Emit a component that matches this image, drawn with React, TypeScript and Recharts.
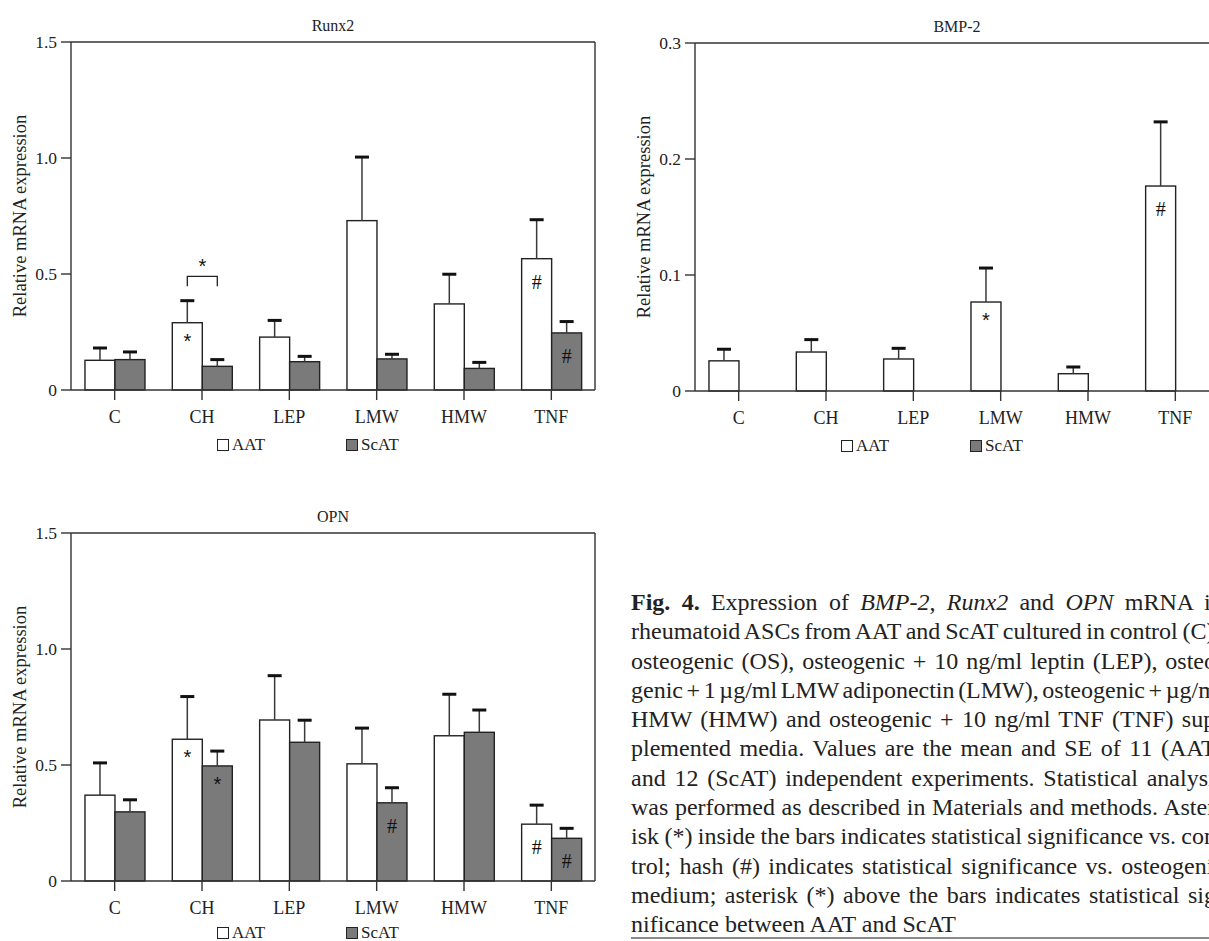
import React from 'react';
import { BarChart, Bar, XAxis, YAxis, Legend, CartesianGrid } from 'recharts';

const groups = ['C', 'CH', 'LEP', 'LMW', 'HMW', 'TNF'];

// Runx2
const runxAat = [0.128, 0.29, 0.228, 0.73, 0.371, 0.566];
const runxAatSe = [0.053, 0.095, 0.072, 0.274, 0.128, 0.168];
const runxScat = [0.131, 0.102, 0.122, 0.134, 0.093, 0.246];
const runxScatSe = [0.033, 0.029, 0.023, 0.02, 0.026, 0.049];
const runxAatMark = ['', '*', '', '', '', '#'];
const runxScatMark = ['', '', '', '', '', '#'];
const runxBracket = [null, 0.49, null, null, null, null];

// BMP-2 (ScAT not shown)
const bmpAat = [0.026, 0.0336, 0.0276, 0.0767, 0.0149, 0.1767];
const bmpAatSe = [0.01, 0.0107, 0.0092, 0.0293, 0.0058, 0.0553];
const bmpScat = [null, null, null, null, null, null];
const bmpScatSe = [null, null, null, null, null, null];
const bmpAatMark = ['', '', '', '*', '', '#'];
const bmpScatMark = ['', '', '', '', '', ''];

// OPN
const opnAat = [0.37, 0.611, 0.694, 0.505, 0.626, 0.245];
const opnAatSe = [0.139, 0.184, 0.191, 0.154, 0.179, 0.082];
const opnScat = [0.298, 0.496, 0.598, 0.337, 0.641, 0.184];
const opnScatSe = [0.052, 0.064, 0.095, 0.065, 0.096, 0.043];
const opnAatMark = ['', '*', '', '', '', '#'];
const opnScatMark = ['', '*', '', '#', '', '#'];

const runxTicks = [0, 0.5, 1.0, 1.5];
const bmpTicks = [0, 0.1, 0.2, 0.3];
const opnTicks = [0, 0.5, 1.0, 1.5];

const FONT = '"Liberation Serif", "Times New Roman", serif';
const STAR_FONT = '"Liberation Sans", Arial, sans-serif';
const AXIS = '#333';
const INK = '#222';

function buildRows(
  aat: (number | null)[],
  aatSe: (number | null)[],
  scat: (number | null)[],
  scatSe: (number | null)[],
  aatMark: string[],
  scatMark: string[],
  bracket: (number | null)[] = []
) {
  return groups.map((name, i) => ({
    name,
    aat: aat[i],
    aatSe: aatSe[i],
    scat: scat[i],
    scatSe: scatSe[i],
    aatMark: aatMark[i],
    scatMark: scatMark[i],
    bracket: bracket[i] ?? null,
  }));
}

function MeanBar(props: any) {
  const { x, y, width, height, fill, payload, valueKey, markKey } = props;
  if (!(height > 0)) return null;
  const cx = x + width / 2;
  const mark = payload[markKey];
  let bracket = null;
  if (payload.bracket != null && valueKey === 'aat') {
    // pixels per unit taken from the bar the library laid out
    const ppu = height / payload[valueKey];
    const by = y + height - payload.bracket * ppu;
    const x2 = cx + width;
    bracket = (
      <g>
        <path d={`M${cx},${by + 10}V${by}H${x2}V${by + 10}`} fill="none" stroke={INK} strokeWidth={1.3} />
        <text x={(cx + x2) / 2} y={by - 3} textAnchor="middle" fontSize={20} fontFamily={STAR_FONT} fill="#111">
          *
        </text>
      </g>
    );
  }
  return (
    <g>
      <rect x={x} y={y} width={width} height={height} fill={fill} stroke={INK} strokeWidth={1.4} />
      {mark === '*' && (
        <text x={cx} y={y + 25} textAnchor="middle" fontSize={20} fontFamily={STAR_FONT} fill="#111">
          *
        </text>
      )}
      {mark === '#' && (
        <text x={cx} y={y + 30} textAnchor="middle" fontSize={20} fontFamily={FONT} fill="#111">
          #
        </text>
      )}
      {bracket}
    </g>
  );
}

function SeBar(props: any) {
  const { x, y, width, height } = props;
  if (!(height > 0)) return null;
  const cx = x + width / 2;
  return (
    <g>
      <line x1={cx} x2={cx} y1={y + height} y2={y} stroke="#3a3a3a" strokeWidth={1.5} />
      <rect x={cx - 7} y={y - 1.5} width={14} height={3} fill="#111" />
    </g>
  );
}

function LegendBox({ payload }: any) {
  const items = (payload || []).filter((e: any) => e.dataKey === 'aat' || e.dataKey === 'scat');
  return (
    <div style={{ position: 'relative', width: 0, height: 0 }}>
      {items.map((e: any, i: number) => (
        <div
          key={e.value}
          style={{
            position: 'absolute',
            left: i * 129,
            top: 0,
            display: 'flex',
            alignItems: 'center',
            whiteSpace: 'nowrap',
            fontSize: 17,
            lineHeight: '18px',
            fontFamily: FONT,
            color: INK,
          }}
        >
          <span
            style={{
              display: 'inline-block',
              width: 10,
              height: 10,
              border: `1px solid ${INK}`,
              background: e.dataKey === 'aat' ? '#fff' : '#7a7a7a',
              marginRight: 3,
            }}
          />
          {e.value}
        </div>
      ))}
    </div>
  );
}

const fmt = (v: number) => (v === 0 ? '0' : v.toFixed(1));

function Panel({ title, rows, max, ticks, left, top, legendTop }: any) {
  const axisLine = { stroke: AXIS, strokeWidth: 1.4 };
  return (
    <div style={{ position: 'absolute', left, top, width: 605, height: 470 }}>
      <div
        style={{
          position: 'absolute',
          left: 71,
          top: 17.5,
          width: 524,
          textAlign: 'center',
          fontSize: 16,
          lineHeight: '16px',
          color: INK,
          fontFamily: FONT,
        }}
      >
        {title}
      </div>
      <BarChart
        width={605}
        height={470}
        data={rows}
        margin={{ top: 42, right: 10, bottom: 40, left: 0 }}
        barGap={0}
        barCategoryGap="16%"
      >
        <CartesianGrid
          stroke={AXIS}
          strokeWidth={1.4}
          fill="none"
          horizontalCoordinatesGenerator={({ offset }: any) => [offset.top]}
          verticalCoordinatesGenerator={({ offset }: any) => [offset.left + offset.width]}
        />
        <XAxis
          dataKey="name"
          height={40}
          interval={0}
          tickSize={10}
          tickMargin={10}
          axisLine={axisLine}
          tickLine={axisLine}
          tick={{ fill: INK, fontSize: 18, fontFamily: FONT }}
        />
        <YAxis
          type="number"
          domain={[0, max]}
          ticks={ticks}
          tickFormatter={fmt}
          width={71}
          tickSize={10}
          tickMargin={4}
          axisLine={axisLine}
          tickLine={axisLine}
          tick={{ fill: INK, fontSize: 17.5, fontFamily: FONT }}
          label={{
            value: 'Relative mRNA expression',
            angle: -90,
            position: 'insideLeft',
            offset: 19,
            fill: INK,
            fontSize: 18.5,
            fontFamily: FONT,
            style: { textAnchor: 'middle' },
          }}
        />
        <Legend
          layout="horizontal"
          verticalAlign="middle"
          align="center"
          wrapperStyle={{ left: 217, top: legendTop, width: 0, height: 0 }}
          content={<LegendBox />}
        />
        <Bar
          dataKey="aat"
          name="AAT"
          stackId="a"
          fill="#ffffff"
          isAnimationActive={false}
          shape={(p: any) => <MeanBar {...p} valueKey="aat" markKey="aatMark" />}
        />
        <Bar dataKey="aatSe" stackId="a" legendType="none" isAnimationActive={false} shape={(p: any) => <SeBar {...p} />} />
        <Bar
          dataKey="scat"
          name="ScAT"
          stackId="s"
          fill="#7a7a7a"
          isAnimationActive={false}
          shape={(p: any) => <MeanBar {...p} valueKey="scat" markKey="scatMark" />}
        />
        <Bar dataKey="scatSe" stackId="s" legendType="none" isAnimationActive={false} shape={(p: any) => <SeBar {...p} />} />
      </BarChart>
    </div>
  );
}

type Seg = { t: string; b?: boolean; i?: boolean };

const captionLines: Seg[][] = [
  [
    { t: 'Fig. 4.', b: true },
    { t: ' Expression of ' },
    { t: 'BMP-2', i: true },
    { t: ', ' },
    { t: 'Runx2', i: true },
    { t: ' and ' },
    { t: 'OPN', i: true },
    { t: ' mRNA in' },
  ],
  [{ t: 'rheumatoid ASCs from AAT and ScAT cultured in control (C),' }],
  [{ t: 'osteogenic (OS), osteogenic + 10 ng/ml leptin (LEP), osteo-' }],
  [{ t: 'genic + 1 µg/ml LMW adiponectin (LMW), osteogenic + µg/ml' }],
  [{ t: 'HMW (HMW) and osteogenic + 10 ng/ml TNF (TNF) sup-' }],
  [{ t: 'plemented media. Values are the mean and SE of 11 (AAT)' }],
  [{ t: 'and 12 (ScAT) independent experiments. Statistical analysis' }],
  [{ t: 'was performed as described in Materials and methods. Aster-' }],
  [{ t: 'isk (*) inside the bars indicates statistical significance vs. con-' }],
  [{ t: 'trol; hash (#) indicates statistical significance vs. osteogenic' }],
  [{ t: 'medium; asterisk (*) above the bars indicates statistical sig-' }],
  [{ t: 'nificance between AAT and ScAT' }],
];

const CAP_SIZE = 24;
const CAP_WIDTH = 593;

function segFont(s: Seg) {
  return `${s.i ? 'italic ' : ''}${s.b ? 'bold ' : ''}${CAP_SIZE}px "Liberation Serif"`;
}

// word spacing that spreads a line over the column, as in the printed caption
function justify(line: Seg[]) {
  const ctx = document.createElement('canvas').getContext('2d');
  if (!ctx) return 0;
  let w = 0;
  let spaces = 0;
  for (const s of line) {
    ctx.font = segFont(s);
    w += ctx.measureText(s.t).width;
    spaces += (s.t.match(/ /g) || []).length;
  }
  return spaces ? (CAP_WIDTH - w) / spaces : 0;
}

export default function App() {
  const runxRows = buildRows(runxAat, runxAatSe, runxScat, runxScatSe, runxAatMark, runxScatMark, runxBracket);
  const bmpRows = buildRows(bmpAat, bmpAatSe, bmpScat, bmpScatSe, bmpAatMark, bmpScatMark);
  const opnRows = buildRows(opnAat, opnAatSe, opnScat, opnScatSe, opnAatMark, opnScatMark);
  const last = captionLines.length - 1;
  return (
    <div
      style={{
        position: 'fixed',
        left: 0,
        top: 0,
        width: 1209,
        height: 941,
        overflow: 'hidden',
        background: '#fff',
        fontFamily: FONT,
      }}
    >
      <Panel title="Runx2" rows={runxRows} max={1.5} ticks={runxTicks} left={0} top={0} legendTop={436} />
      <Panel title="BMP-2" rows={bmpRows} max={0.3} ticks={bmpTicks} left={624} top={1} legendTop={436} />
      <Panel title="OPN" rows={opnRows} max={1.5} ticks={opnTicks} left={0} top={491} legendTop={433} />
      <div
        style={{
          position: 'absolute',
          left: 631,
          top: 588,
          fontSize: CAP_SIZE,
          lineHeight: '29.3px',
          color: INK,
          whiteSpace: 'pre',
        }}
      >
        {captionLines.map((line, i) => (
          <div key={i} style={{ wordSpacing: i < last ? justify(line) : 0 }}>
            {line.map((s, j) =>
              s.b ? <b key={j}>{s.t}</b> : s.i ? <i key={j}>{s.t}</i> : <span key={j}>{s.t}</span>
            )}
          </div>
        ))}
      </div>
      <div style={{ position: 'absolute', left: 631, top: 937, width: 600, height: 2, background: '#8a8a8a' }} />
    </div>
  );
}
